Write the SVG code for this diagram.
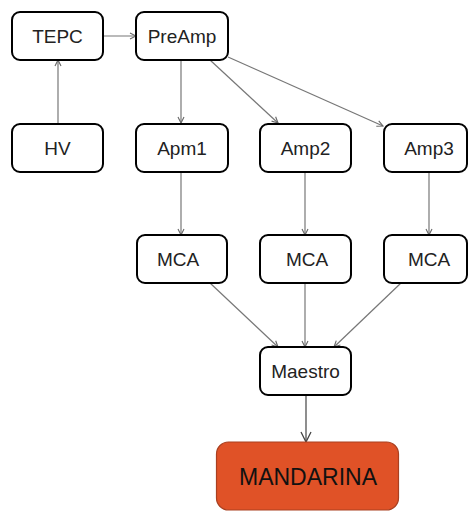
<svg xmlns="http://www.w3.org/2000/svg" width="468" height="511" viewBox="0 0 468 511">
<style>
.box{fill:#fff;stroke:#000;stroke-width:2}
.lbl{font-family:"Liberation Sans","Open Sans",sans-serif;font-size:19px;fill:#222;text-anchor:middle}
.big{font-size:23px;fill:#111}
.conn line{stroke:#777;stroke-width:1.2;fill:none;marker-end:url(#ah)}
</style>
<defs>
<marker id="ah" viewBox="0 0 8 8" refX="7" refY="4" markerWidth="8" markerHeight="8" markerUnits="userSpaceOnUse" orient="auto">
<path d="M1,1 L7,4 L1,7" fill="none" stroke="#666" stroke-width="1.1"/>
</marker>
<marker id="ah2" viewBox="0 0 12 12" refX="11" refY="6" markerWidth="12" markerHeight="12" markerUnits="userSpaceOnUse" orient="auto">
<path d="M1,1 L11,6 L1,11" fill="none" stroke="#444" stroke-width="1.3"/>
</marker>
</defs>
<g id="connectors" class="conn">
<line x1="103" y1="36" x2="136" y2="36"/>
<line x1="58" y1="124" x2="58" y2="60"/>
<line x1="181" y1="60" x2="181" y2="123"/>
<line x1="210" y1="60" x2="278" y2="123"/>
<line x1="228" y1="57" x2="383" y2="126"/>
<line x1="181" y1="172" x2="181" y2="235"/>
<line x1="305" y1="172" x2="305" y2="235"/>
<line x1="429" y1="172" x2="429" y2="235"/>
<line x1="210" y1="283" x2="278" y2="347"/>
<line x1="305" y1="283" x2="305" y2="347"/>
<line x1="401" y1="283" x2="334" y2="347"/>
<line x1="306" y1="395" x2="306" y2="442" style="stroke:#444;marker-end:url(#ah2)"/>
</g>
<g id="tepc"><rect class="box" x="12" y="12" width="91" height="48" rx="8"/><text class="lbl" x="57.5" y="43">TEPC</text></g>
<g id="preamp"><rect class="box" x="136" y="12" width="92" height="48" rx="8"/><text class="lbl" x="182" y="43">PreAmp</text></g>
<g id="hv"><rect class="box" x="12" y="124" width="91" height="48" rx="8"/><text class="lbl" x="57.5" y="155">HV</text></g>
<g id="apm1"><rect class="box" x="136" y="124" width="92" height="48" rx="8"/><text class="lbl" x="182" y="155">Apm1</text></g>
<g id="amp2"><rect class="box" x="260" y="124" width="91" height="48" rx="8"/><text class="lbl" x="305.5" y="155">Amp2</text></g>
<g id="amp3"><rect class="box" x="384" y="124" width="83" height="48" rx="8"/><text class="lbl" x="429" y="155">Amp3</text></g>
<g id="mca1"><rect class="box" x="137" y="235" width="90" height="48" rx="8"/><text class="lbl" x="178" y="266">MCA</text></g>
<g id="mca2"><rect class="box" x="260" y="235" width="91" height="48" rx="8"/><text class="lbl" x="307" y="266">MCA</text></g>
<g id="mca3"><rect class="box" x="384" y="235" width="83" height="48" rx="8"/><text class="lbl" x="429" y="266">MCA</text></g>
<g id="maestro"><rect class="box" x="260" y="347" width="91" height="48" rx="8"/><text class="lbl" x="305.5" y="378">Maestro</text></g>
<g id="mandarina"><rect x="216.5" y="442" width="182" height="68" rx="12" fill="#E05227" stroke="#A94020" stroke-width="1.2"/><text class="lbl big" x="308" y="485">MANDARINA</text></g>
</svg>
